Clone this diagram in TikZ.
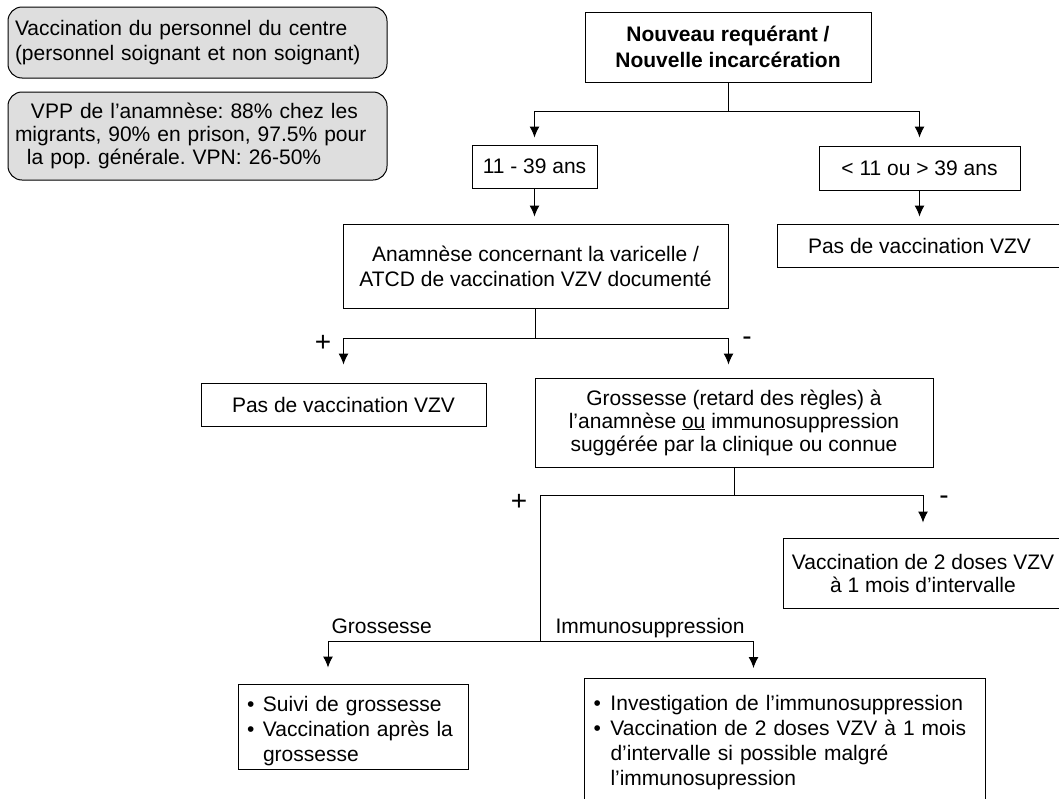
\documentclass[tikz,border=0pt]{standalone}
\usepackage{fontspec}
\setmainfont{Liberation Sans}
\usepackage{tikz}
\usetikzlibrary{arrows.meta}
\tikzstyle{bx} = [draw, black, align=center, inner sep=0pt]
\tikzstyle{gbx} = [draw, black, fill=black!13, rounded corners=14pt, align=left, inner xsep=7pt, inner ysep=0pt]
\tikzstyle{ar} = [-{Latex[length=11pt,width=10pt]}]
\tikzstyle{sgn} = [inner sep=0pt, font=\fontsize{28}{28}\selectfont]
\frenchspacing

\begin{document}
\begin{tikzpicture}[x=1pt, y=-1pt, line width=1pt]
  \tikzstyle{every node}=[font=\fontsize{21}{25}\selectfont]
  \useasboundingbox (0,0) rectangle (1059,798);

  % notes
  \node[gbx, text width=365pt, minimum height=71pt] (staff) at (197.5,42.5) {Vaccination du personnel du centre\\(personnel soignant et non soignant)};
  \node[gbx, text width=365pt, minimum height=88pt, font=\fontsize{21}{23}\selectfont] (ppv) at (197.5,136) {\hspace*{16pt}VPP de l’anamnèse: 88\% chez les\\migrants, 90\% en prison, 97.5\% pour\\\hspace*{12pt}la pop. générale. VPN: 26-50\%};

  % boxes
  \node[bx, minimum width=286pt, minimum height=70pt, font=\fontsize{21}{26}\selectfont\bfseries] (new) at (728,47) {Nouveau requérant /\\Nouvelle incarcération};
  \node[bx, minimum width=125pt, minimum height=43pt] (young) at (534.5,166.5) {11 - 39 ans};
  \node[bx, minimum width=201pt, minimum height=44pt] (other) at (919.5,168) {< 11 ou > 39 ans};
  \node[bx, minimum width=285pt, minimum height=43pt] (novacR) at (919.5,245.5) {Pas de vaccination VZV};
  \node[bx, minimum width=385pt, minimum height=84pt] (hist) at (535.5,266) {Anamnèse concernant la varicelle /\\ATCD de vaccination VZV documenté};
  \node[bx, minimum width=285pt, minimum height=43pt] (novacL) at (343.5,404.5) {Pas de vaccination VZV};
  \node[bx, minimum width=398pt, minimum height=89pt, font=\fontsize{21}{23}\selectfont] (preg) at (734,422.5) {Grossesse (retard des règles) à\\l’anamnèse \underline{ou} immunosuppression\\suggérée par la clinique ou connue};
  \node[bx, minimum width=280pt, minimum height=70pt, font=\fontsize{21}{23}\selectfont] (vac) at (923,573) {Vaccination de 2 doses VZV\\à 1 mois d’intervalle};
  \node[bx, align=left, text width=212pt, minimum width=230pt, minimum height=85pt] (follow) at (353,726.5) {\rule{0pt}{25pt}\makebox[16pt][l]{\textbullet}Suivi de grossesse\\\makebox[16pt][l]{\textbullet}Vaccination après la\\\hspace*{16pt}grossesse};
  \node[bx, align=left, text width=383pt, inner xsep=9pt, minimum height=128pt, anchor=north west] (immu) at (584,678) {\makebox[17pt][l]{\textbullet}Investigation de l’immunosuppression\\\makebox[17pt][l]{\textbullet}Vaccination de 2 doses VZV à 1 mois\\\hspace*{17pt}d’intervalle si possible malgré\\\hspace*{17pt}l’immunosupression};

  % signs and branch labels
  \node[sgn] (plus1) at (323,343) {+};
  \node[sgn] (minus1) at (747,341) {-};
  \node[sgn] (plus2) at (519,502) {+};
  \node[sgn] (minus2) at (944,500) {-};
  \node[anchor=base west, inner sep=0pt] (lpreg) at (331,633) {Grossesse};
  \node[anchor=base west, inner sep=0pt] (limmu) at (555,633) {Immunosuppression};

  % connectors
  \coordinate (j1) at (728,111);
  \coordinate (j2) at (535.5,338);
  \coordinate (s1) at (540,495);
  \coordinate (s2) at (540,641);

  \draw (new.south) -- (j1);
  \draw[ar, shorten >=7pt] (j1) -| (young.north);
  \draw[ar, shorten >=8pt] (j1) -| (other.north);
  \draw[ar, shorten >=7pt] (young.south) -- (young.south |- hist.north);
  \draw[ar, shorten >=7pt] (other.south) -- (novacR.north);
  \draw (hist.south) -- (j2);
  \draw[ar, shorten >=18pt] (j2) -| (novacL.north);
  \draw[ar, shorten >=13pt] (j2) -| (hist.east |- preg.north);
  \draw (preg.south) -- (preg.south |- s1);
  \draw[ar, shorten >=15pt] (s1) -| (vac.north);
  \draw (s1) -- (s2);
  \draw[ar, shorten >=16pt] (s2) -| ([xshift=-25pt]follow.north);
  \draw[ar, shorten >=10pt] (s2) -| ([xshift=-31.5pt]immu.north);
\end{tikzpicture}
\end{document}
